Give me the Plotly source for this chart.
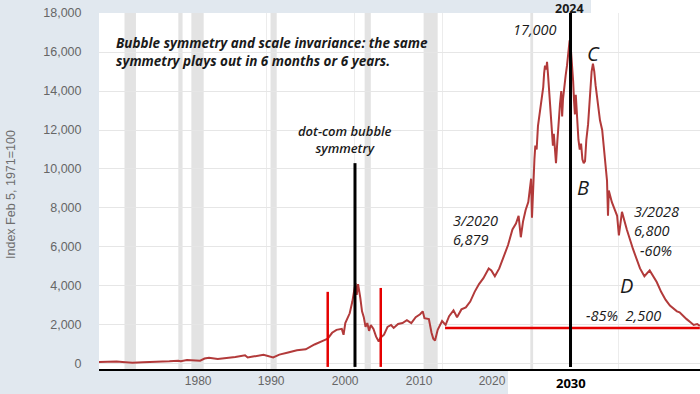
import plotly.graph_objects as go

# ---- data ----
years = [1971.0, 1972.0, 1973.0, 1974.0, 1974.8, 1976.0, 1977.0, 1978.0, 1979.0, 1980.0, 1980.3,
         1981.0, 1982.0, 1982.5, 1983.0, 1983.5, 1984.5, 1985.5, 1986.5, 1987.6, 1987.9, 1988.5,
         1989.7, 1990.8, 1991.5, 1992.5, 1993.5, 1994.5, 1995.5, 1996.5, 1997.0, 1997.5, 1998.0,
         1998.6, 1998.8, 1999.0, 1999.5, 1999.8, 2000.0, 2000.15, 2000.3, 2000.45, 2000.7, 2000.9,
         2001.1, 2001.3, 2001.5, 2001.7, 2001.9, 2002.2, 2002.5, 2002.8, 2003.0, 2003.4, 2003.8,
         2004.2, 2004.5, 2005.0, 2005.5, 2006.0, 2006.5, 2007.0, 2007.5, 2007.8, 2008.0, 2008.5,
         2008.8, 2009.0, 2009.2, 2009.5, 2010.0, 2010.4, 2010.8, 2011.3, 2011.7, 2012.2, 2012.7,
         2013.2, 2013.7, 2014.2, 2014.7, 2015.3, 2015.6, 2016.0, 2016.5, 2017.0, 2017.5, 2018.0,
         2018.4, 2018.7, 2018.95, 2019.2, 2019.5, 2019.8, 2020.0, 2020.12, 2020.22, 2020.35,
         2020.5, 2020.6, 2020.75, 2020.9, 2021.05, 2021.2, 2021.36, 2021.5, 2021.6, 2021.7,
         2021.85, 2021.93, 2022.05, 2022.2, 2022.35, 2022.45, 2022.6, 2022.7, 2022.85, 2022.95,
         2023.1, 2023.25, 2023.4, 2023.55, 2023.65, 2023.75, 2023.9, 2024.05, 2024.2, 2024.35,
         2024.5, 2024.6, 2024.75, 2024.9, 2025.0, 2025.1, 2025.2, 2025.35, 2025.5, 2025.65,
         2025.8, 2025.95, 2026.1, 2026.25, 2026.4, 2026.6, 2026.8, 2027.0, 2027.15, 2027.3,
         2027.45, 2027.6, 2027.8, 2027.95, 2028.2, 2028.3, 2028.5, 2028.75, 2028.86, 2028.95,
         2029.3, 2029.6, 2029.9, 2030.1, 2030.45, 2031.0, 2031.7, 2032.5, 2033.0, 2033.6, 2034.4,
         2034.9, 2035.4, 2035.9, 2036.4, 2036.7, 2037.0, 2037.4, 2037.8, 2038.2, 2038.6, 2039.0,
         2039.3]
values = [100, 130, 130, 90, 65, 95, 100, 120, 140, 170, 140,
          200, 180, 170, 280, 320, 250, 300, 360, 450, 330, 380,
          470, 340, 480, 590, 700, 750, 1000, 1200, 1300, 1600, 1750,
          1800, 1500, 2100, 2600, 3200, 3900, 4150, 3550, 4100, 3400, 2700,
          2400, 1900, 2100, 1700, 2000, 1800, 1400, 1150, 1350, 1500, 1900,
          2000, 1850, 2050, 2100, 2250, 2100, 2400, 2550, 2700, 2350, 2300,
          1600, 1300, 1200, 1750, 2200, 2000, 2450, 2750, 2400, 2800, 2900,
          3200, 3700, 4100, 4400, 4900, 4800, 4500, 4900, 5500, 6100, 6900,
          7200, 7600, 6500, 7300, 7900, 8300, 9000, 9500, 7500, 9500,
          10500, 11200, 11000, 12200, 12700, 13300, 14000, 14200, 14900, 15300,
          15100, 15500, 14800, 13800, 12900, 12200, 11200, 11800, 10600, 10300,
          11400, 12500, 13300, 14000, 12700, 13600, 14400, 14800, 15300, 16000,
          16600, 16400, 15600, 14500, 13500, 12800, 13800, 12500, 11500, 11000,
          11300, 10500, 10300, 10400, 11500, 12300, 13800, 15000, 15400, 15000,
          14300, 13700, 12800, 12500, 12000, 11500, 10700, 9400, 7600, 8900,
          8300, 7900, 7600, 6600, 7800, 6900, 5900, 4900, 4500, 4800, 4200,
          3700, 3300, 3000, 2800, 2700, 2650, 2450, 2300, 2150, 2000, 2050,
          1950]

rec_start = [1973.9, 1980.0, 1981.5, 1990.5, 2001.2, 2007.9, 2020.1]
rec_end = [1975.2, 1980.5, 1982.9, 1991.2, 2001.9, 2009.5, 2020.35]

y_ticks = [0, 2000, 4000, 6000, 8000, 10000, 12000, 14000, 16000, 18000]
x_tick_labels = ["1980", "1990", "2000", "2010", "2020"]
x_tick_pos = [1982.27, 1990.57, 1998.98, 2007.39, 2015.68]

black_marks = [2000.1, 2024.6]
black_tops = [10300, 18000]
red_marks = [1997.0, 2003.03]
red_tops = [3700, 3900]
support_start = 2010.34
support_end = 2039.3
support_level = 1850

Y0, Y1 = -257, 18000
X0, X1 = 1971.0, 2039.32

fig = go.Figure()

# recession shading
for s, e in zip(rec_start, rec_end):
    fig.add_shape(type="rect", xref="x", yref="paper", x0=s, x1=e, y0=0, y1=1,
                  fillcolor="#e3e3e3", line_width=0, layer="below")

# white pasted regions outside plot
fig.add_shape(type="rect", xref="paper", yref="paper", x0=(508 - 99) / 601, x1=1.0,
              y0=-25 / 356, y1=-2 / 356, fillcolor="white", line_width=0, layer="below")
fig.add_shape(type="rect", xref="paper", yref="paper", x0=(591 - 99) / 601, x1=1.0,
              y0=1.0, y1=1 + 13 / 356, fillcolor="white", line_width=0, layer="below")

fig.add_trace(go.Scatter(x=years, y=values, mode="lines",
                         line=dict(color="#b23a3a", width=2), showlegend=False))

for xm, top in zip(red_marks, red_tops):
    fig.add_trace(go.Scatter(x=[xm, xm], y=[-150, top], mode="lines",
                             line=dict(color="#e60000", width=2.5), showlegend=False))
fig.add_trace(go.Scatter(x=[support_start, support_end], y=[support_level, support_level],
                         mode="lines", line=dict(color="#e60000", width=2.5), showlegend=False))
for xm, top in zip(black_marks, black_tops):
    fig.add_trace(go.Scatter(x=[xm, xm], y=[-150, top], mode="lines",
                             line=dict(color="black", width=3), showlegend=False))


def px(x):
    return (x - 99) / 601


def py(y):
    return (369 - y) / 356


txt = "#1a1a1a"
fs = 14.5
ann = []
ann.append(dict(x=px(114), y=py(52), xanchor="left", yanchor="middle", align="left",
                text="<b><i>Bubble symmetry and scale invariance: the same<br>symmetry plays out in 6 months or 6 years.</i></b>",
                font=dict(family="Open Sans", size=13.5, color=txt)))
ann.append(dict(x=px(345), y=py(139), xanchor="center", yanchor="middle",
                text="<i>dot-com bubble<br>symmetry</i>",
                font=dict(family="Open Sans", size=13, color=txt, weight=600)))
ann.append(dict(x=px(535), y=py(29), xanchor="center", yanchor="middle", text="<i>17,000</i>",
                font=dict(family="Open Sans", size=fs, color=txt)))
ann.append(dict(x=px(569), y=py(9), xanchor="center", yanchor="middle", text="<b>2024</b>",
                font=dict(family="Open Sans", size=12.5, color=txt)))
for lab, xx, yy in [("C", 593, 53), ("B", 583, 187), ("D", 626, 285)]:
    ann.append(dict(x=px(xx), y=py(yy), xanchor="center", yanchor="middle", text="<i>%s</i>" % lab,
                    font=dict(family="Open Sans", size=20, color=txt)))
ann.append(dict(x=px(451), y=py(230), xanchor="left", yanchor="middle", align="left",
                text="<i>3/2020<br>6,879</i>", font=dict(family="Open Sans", size=fs, color=txt)))
ann.append(dict(x=px(632), y=py(221), xanchor="left", yanchor="middle", align="left",
                text="<i>3/2028<br>6,800</i>", font=dict(family="Open Sans", size=fs, color=txt)))
ann.append(dict(x=px(638), y=py(250), xanchor="left", yanchor="middle", text="<i>-60%</i>",
                font=dict(family="Open Sans", size=fs, color=txt)))
ann.append(dict(x=px(584), y=py(315), xanchor="left", yanchor="middle", text="<i>-85%  2,500</i>",
                font=dict(family="Open Sans", size=fs, color=txt)))
ann.append(dict(x=px(571), y=py(383), xanchor="center", yanchor="middle", text="<b>2030</b>",
                font=dict(family="Open Sans", size=13, color="black")))
ann.append(dict(x=px(11), y=py(195), xanchor="center", yanchor="middle", textangle=-90,
                text="Index Feb 5, 1971=100", font=dict(family="Liberation Sans", size=12.5, color="#6e6e6e")))
for a in ann:
    a.update(xref="paper", yref="paper", showarrow=False)

fig.update_layout(
    width=700, height=394,
    margin=dict(l=99, r=0, t=13, b=25),
    paper_bgcolor="#e1e8ef", plot_bgcolor="white",
    annotations=ann, showlegend=False,
    xaxis=dict(range=[X0, X1], tickmode="array", tickvals=x_tick_pos, ticktext=x_tick_labels,
               showgrid=False, zeroline=False, showline=True, linecolor="black", linewidth=2,
               ticks="", tickfont=dict(family="Liberation Sans", size=12, color="#666666"),
               minor=dict(tickmode="array", tickvals=[1980, 1990, 2000, 2010, 2020, 2030],
                          showgrid=True, gridcolor="#ececec", gridwidth=1)),
    yaxis=dict(range=[Y0, Y1], tickmode="array", tickvals=y_ticks, tickformat=",",
               showgrid=True, gridcolor="#e6e6e6", gridwidth=1, zeroline=False,
               ticks="outside", ticklen=14, tickcolor="rgba(0,0,0,0)",
               tickfont=dict(family="Liberation Sans", size=12.5, color="#666666")),
)

fig.write_html("out.html", config={"displayModeBar": False},
               post_script="document.body.style.margin='0px';document.body.style.overflow='hidden';")
